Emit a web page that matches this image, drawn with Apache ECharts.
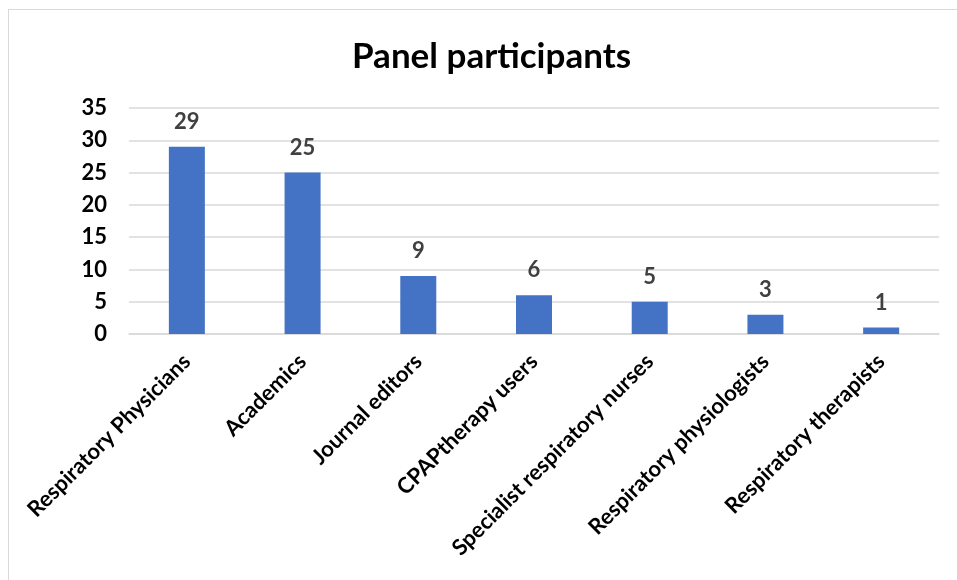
<!DOCTYPE html>
<html>
<head>
<meta charset="utf-8">
<script src="https://cdn.jsdelivr.net/npm/echarts@6/dist/echarts.min.js"></script>
<style>
  html, body { margin: 0; padding: 0; background: #fff; }
  #frame { position: absolute; left: 8px; top: 9px; width: 1200px; height: 1200px; border: 1px solid #d9d9d9; }
  #chart { position: absolute; left: 0; top: 0; width: 957px; height: 580px; }
</style>
</head>
<body>
<div id="frame"></div>
<div id="chart"></div>
<script>
const categories = ['Respiratory Physicians', 'Academics', 'Journal editors', 'CPAPtherapy users',
    'Specialist respiratory nurses', 'Respiratory physiologists', 'Respiratory therapists'];
const participants = [29, 25, 9, 6, 5, 3, 1];
const yTicks = [0, 5, 10, 15, 20, 25, 30, 35];

const FONT = 'Lato, "Open Sans", sans-serif';

var myChart = echarts.init(document.getElementById('chart'));

option = {
    animation: false,
    title: {
        text: 'Panel participants',
        left: 347,
        top: 34,
        textStyle: { fontFamily: FONT, fontSize: 35, fontWeight: 'bold', color: '#000' }
    },
    grid: { left: 129, right: 18, top: 108, bottom: 246, containLabel: false },
    xAxis: {
        type: 'category',
        data: categories,
        axisLine: { lineStyle: { color: '#d9d9d9', width: 1.5 } },
        axisTick: { show: false },
        axisLabel: {
            interval: 0,
            rotate: 45,
            margin: 24,
            fontFamily: FONT,
            fontSize: 22,
            fontWeight: 'bold',
            color: '#000'
        }
    },
    yAxis: {
        type: 'value',
        min: yTicks[0],
        max: yTicks[yTicks.length - 1],
        interval: 5,
        axisLine: { show: false },
        axisTick: { show: false },
        splitLine: { lineStyle: { color: '#d9d9d9', width: 1.5 } },
        axisLabel: {
            margin: 22,
            fontFamily: FONT,
            fontSize: 22,
            fontWeight: 'bold',
            color: '#000'
        }
    },
    series: [{
        type: 'bar',
        data: participants,
        barWidth: 36,
        itemStyle: { color: '#4472c4' },
        label: {
            show: true,
            position: 'top',
            distance: 14,
            fontFamily: FONT,
            fontSize: 22,
            fontWeight: 'bold',
            color: '#404040'
        }
    }]
};

myChart.setOption(option, true);
</script>
</body>
</html>
